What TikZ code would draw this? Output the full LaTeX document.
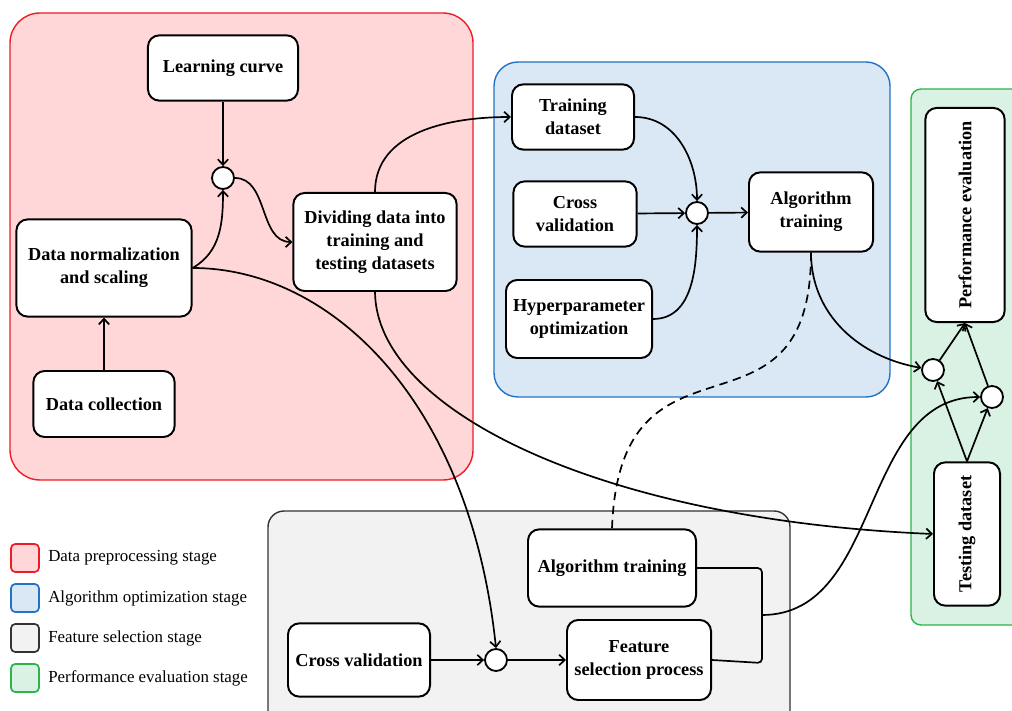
\documentclass[tikz,border=0pt]{standalone}
\usepackage{fontspec}
\setmainfont{Liberation Serif}
\usetikzlibrary{arrows.meta}
\definecolor{prepfill}{HTML}{FFD7D8}
\definecolor{prepline}{HTML}{EE1C24}
\definecolor{optfill}{HTML}{DAE8F5}
\definecolor{optline}{HTML}{2472C8}
\definecolor{selfill}{HTML}{F2F2F2}
\definecolor{selline}{HTML}{333333}
\definecolor{evalfill}{HTML}{D9F2E4}
\definecolor{evalline}{HTML}{2DB34A}
\begin{document}
\begin{tikzpicture}[x=0.025cm,y=0.025cm,
  box/.style={draw,line width=1.4pt,rounded corners=8pt,fill=white,align=center,
    font=\fontsize{13}{16.5}\selectfont\bfseries,inner sep=2pt},
  dot/.style={draw,circle,line width=1.3pt,fill=white,minimum size=0.55cm,inner sep=0pt},
  con/.style={line width=1.2pt},
  arr/.style={con,-{Straight Barb[length=1.4mm,width=2.6mm]}},
  legbox/.style={draw,line width=1.2pt,rounded corners=3pt,minimum size=0.7cm},
  legtext/.style={anchor=west,inner sep=0pt,font=\fontsize{12}{14}\selectfont}]
\clip (0,0) rectangle (1012,710);
% stages
\draw[prepline,fill=prepfill,line width=1pt,rounded corners=0.75cm] (10,230) rectangle (473,697);
\draw[optline,fill=optfill,line width=1pt,rounded corners=0.6cm] (494,313) rectangle (890,648);
\draw[evalline,fill=evalfill,line width=1pt,rounded corners=0.25cm] (911,85) rectangle (1030,621);
\draw[selline,fill=selfill,line width=1pt,rounded corners=0.4cm] (268,-20) rectangle (790,199);
% preprocessing
\node[box,minimum width=3.75cm,minimum height=1.63cm] (lc) at (223,642) {Learning curve};
\node[dot] (c1) at (223,532) {};
\node[box,minimum width=4.38cm,minimum height=2.43cm] (dn) at (104,442) {Data normalization\\and scaling};
\node[box,minimum width=3.53cm,minimum height=1.65cm] (dc) at (104,306) {Data collection};
\node[box,minimum width=4.08cm,minimum height=2.45cm] (dd) at (375,468) {Dividing data into\\training and\\testing datasets};
% optimization
\node[box,minimum width=3.05cm,minimum height=1.63cm] (td) at (573,593) {Training\\dataset};
\node[box,minimum width=3.08cm,minimum height=1.63cm] (cv1) at (575,496) {Cross\\validation};
\node[box,minimum width=3.65cm,minimum height=1.95cm] (hp) at (579,391) {Hyperparameter\\optimization};
\node[dot] (c2) at (697,497) {};
\node[box,minimum width=3.1cm,minimum height=1.98cm] (at1) at (811,498) {Algorithm\\training};
% evaluation
\node[box,minimum width=1.98cm,minimum height=5.35cm] (pe) at (965,495) {\rotatebox{90}{Performance evaluation}};
\node[dot] (c3) at (933,340) {};
\node[dot] (c4) at (992,313) {};
\node[box,minimum width=1.65cm,minimum height=3.58cm] (ts) at (967,176) {\rotatebox{90}{Testing dataset}};
% feature selection
\node[box,minimum width=4.2cm,minimum height=1.93cm] (at2) at (612,142) {Algorithm training};
\node[box,minimum width=3.6cm,minimum height=2.0cm] (fs) at (639,50) {Feature\\selection process};
\node[box,minimum width=3.55cm,minimum height=1.83cm] (cv2) at (359,50) {Cross validation};
\node[dot] (c5) at (496,50) {};
\coordinate (br) at (762,95);
% connectors
\draw[arr] (lc) -- (c1);
\draw[arr] (dc) -- (dn);
\draw[arr] (dn.east) to[out=30,in=-90] (c1);
\draw[arr] (c1) to[out=0,in=180] (dd.west);
\draw[arr] (dd.north) to[out=90,in=180] (td.west);
\draw[arr] (dn.east) .. controls (330,442) and (470,310) .. (c5.north);
\draw[arr] (dd.south) .. controls (376,300) and (600,190) .. (ts.west);
\draw[arr] (td.east) to[out=0,in=90] (c2);
\draw[arr] (cv1) -- (c2);
\draw[arr] (hp.east) to[out=0,in=-90] (c2);
\draw[arr] (c2) -- (at1);
\draw[arr] (at1.south) to[out=-90,in=170] (c3);
\draw[con,dashed,dash pattern=on 6pt off 4pt] (at1.south) .. controls (811,250) and (620,400) .. (at2.north);
\draw[arr] (cv2) -- (c5);
\draw[arr] (c5) -- (fs);
\draw[con,rounded corners=3pt] (at2.east) -- (762,142) -- (762,47) -- (fs.east);
\draw[arr] (br) to[out=0,in=180] (c4);
\draw[arr] (ts.north) -- (c3);
\draw[arr] (ts.north) -- (c4);
\draw[arr] (c3) -- (pe.south);
\draw[arr] (c4) -- (pe.south);
% legend
\node[legbox,draw=prepline,fill=prepfill] (k1) at (25,152) {};
\node[legtext] (t1) at (48,152) {Data preprocessing stage};
\node[legbox,draw=optline,fill=optfill] (k2) at (25,112) {};
\node[legtext] (t2) at (48,112) {Algorithm optimization stage};
\node[legbox,draw=selline,fill=selfill] (k3) at (25,72) {};
\node[legtext] (t3) at (48,72) {Feature selection stage};
\node[legbox,draw=evalline,fill=evalfill] (k4) at (25,32) {};
\node[legtext] (t4) at (48,32) {Performance evaluation stage};
\end{tikzpicture}
\end{document}
